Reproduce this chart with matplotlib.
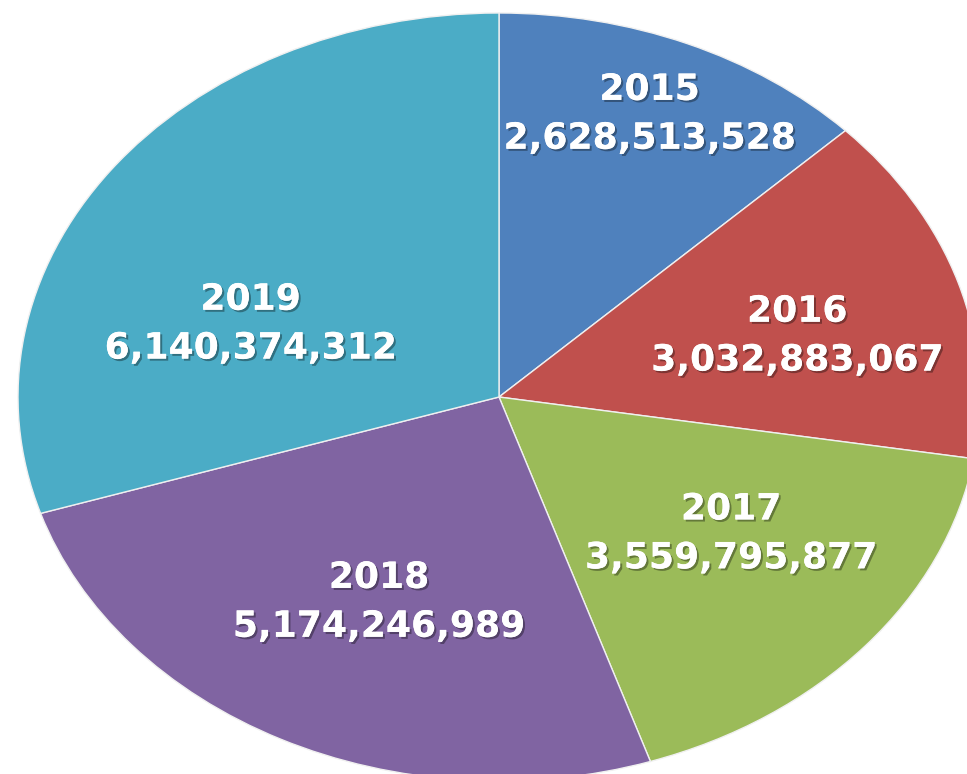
import numpy as np
import matplotlib
matplotlib.use("Agg")
import matplotlib.pyplot as plt
import matplotlib.patheffects as pe

years = ["2015", "2016", "2017", "2018", "2019"]
values = [2628513528, 3032883067, 3559795877, 5174246989, 6140374312]
colors = ["#4F81BD", "#C0504D", "#9BBB59", "#8064A2", "#4BACC6"]

fig = plt.figure(figsize=(9.67, 7.74), dpi=100)
ax = fig.add_axes([0, 0, 1, 1])

wedges, _ = ax.pie(values, colors=colors, startangle=90, counterclock=False,
                   radius=1.0, center=(0, 0), frame=False,
                   wedgeprops=dict(edgecolor="#f0f0f0", linewidth=1.0))

# stretched ellipse: pixel center (499,397), rx=481, ry=384
ax.set_aspect("auto")
ax.set_xlim(-499 / 481, (967 - 499) / 481)
ax.set_ylim(-(774 - 397) / 384, 397 / 384)
ax.axis("off")

label_r = [0.80, 0.64, 0.60, 0.59, 0.55]
label_da = [0, -3, 4, 2, 16]
for w, y, v, r, da in zip(wedges, years, values, label_r, label_da):
    mid = np.deg2rad((w.theta1 + w.theta2) / 2 + da)
    ax.text(r * np.cos(mid), r * np.sin(mid), f"{y}\n{v:,}",
            ha="center", va="center", color="white", fontsize=26,
            fontweight="bold", family="DejaVu Sans", linespacing=1.55,
            path_effects=[pe.withSimplePatchShadow(offset=(1.5, -1.5),
                                                   shadow_rgbFace="black",
                                                   alpha=0.35),
                          pe.Normal()])

fig.savefig("out.png", dpi=100)
